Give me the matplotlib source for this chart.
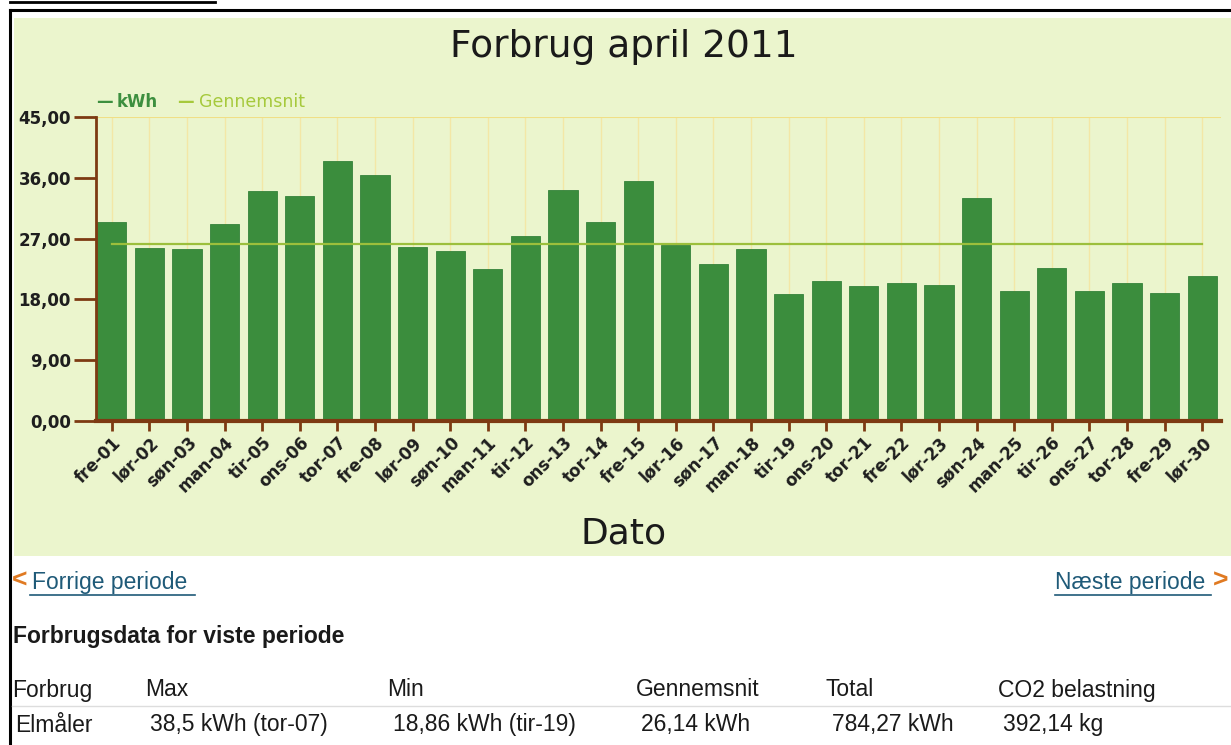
import numpy as np
import matplotlib
matplotlib.use('Agg')
import matplotlib.pyplot as plt
from matplotlib.patches import Rectangle
from matplotlib.lines import Line2D

# daily consumption, april 2011 (kWh)
days = ['fre-01', 'lør-02', 'søn-03', 'man-04', 'tir-05', 'ons-06', 'tor-07', 'fre-08',
        'lør-09', 'søn-10', 'man-11', 'tir-12', 'ons-13', 'tor-14', 'fre-15', 'lør-16',
        'søn-17', 'man-18', 'tir-19', 'ons-20', 'tor-21', 'fre-22', 'lør-23', 'søn-24',
        'man-25', 'tir-26', 'ons-27', 'tor-28', 'fre-29', 'lør-30']
kwh = [29.5, 25.6, 25.5, 29.1, 34.0, 33.3, 38.5, 36.4, 25.8, 25.2,
       22.5, 27.4, 34.2, 29.5, 35.6, 26.1, 23.2, 25.4, 18.86, 20.7,
       20.0, 20.4, 20.1, 33.0, 19.3, 22.7, 19.3, 20.5, 18.9, 21.5]
avg = 26.14
yticks = [0, 9, 18, 27, 36, 45]
ytick_labels = ['0,00', '9,00', '18,00', '27,00', '36,00', '45,00']

table_head = ['Forbrug', 'Max', 'Min', 'Gennemsnit', 'Total', 'CO2 belastning']
table_row = ['Elmåler', '38,5 kWh (tor-07)', '18,86 kWh (tir-19)', '26,14 kWh',
             '784,27 kWh', '392,14 kg']

W, H = 1231, 745
fig = plt.figure(figsize=(W / 100, H / 100), dpi=100)
fig.patch.set_facecolor('white')

def fx(px):
    return px / W

def fy(py):
    return 1 - py / H

# chart panel background
fig.patches.append(Rectangle((fx(14), fy(556)), fx(1231 - 14), fy(18) - fy(556),
                             transform=fig.transFigure, facecolor='#ebf5cd',
                             edgecolor='none', zorder=0))
# page border lines
fig.add_artist(Line2D([fx(10), fx(10)], [fy(10), 0], color='black', lw=2.2,
                      transform=fig.transFigure))
fig.add_artist(Line2D([fx(10), 1], [fy(10), fy(10)], color='black', lw=2.2,
                      transform=fig.transFigure))
fig.add_artist(Line2D([fx(10), fx(215)], [fy(2), fy(2)], color='black', lw=2,
                      transform=fig.transFigure))

ax = fig.add_axes([fx(96), fy(421), fx(1221 - 96), fy(117) - fy(421)])
ax.set_zorder(3)
ax.patch.set_alpha(0)

x = np.arange(len(days))
brown = '#7d3a12'
ax.vlines(x, 0, 45, color='#f3e7a6', lw=1, zorder=1)
ax.axhline(45, color='#f0df86', lw=1.5, zorder=1)
ax.bar(x, kwh, width=0.78, color='#3b8d3d', edgecolor='#34823a', lw=0.6, zorder=2)
ax.plot([x[0], x[-1]], [avg, avg], color='#9cbf3c', lw=1.6, zorder=3)

ax.set_xlim(-0.42, 29.5)
ax.set_ylim(0, 45)
ax.set_yticks(yticks)
ax.set_yticklabels(ytick_labels, fontsize=12, fontweight='bold', color='#1e1e1e')
ax.set_xticks(x)
ax.set_xticklabels(days, rotation=45, ha='right', rotation_mode='anchor',
                   fontsize=12, fontweight='bold', color='#1e1e1e')
for s in ['top', 'right']:
    ax.spines[s].set_visible(False)
ax.spines['left'].set_color(brown)
ax.spines['left'].set_linewidth(2)
ax.spines['bottom'].set_color(brown)
ax.spines['bottom'].set_linewidth(3)
ax.tick_params(axis='y', color=brown, width=2, length=16, pad=2)
ax.tick_params(axis='x', color=brown, width=2, length=7, pad=2)

# legend
fig.text(fx(96), fy(102), '—', color='#3d8f3f', fontsize=12, va='center', fontweight='bold')
fig.text(fx(117), fy(102), 'kWh', color='#3d8f3f', fontsize=12, va='center', fontweight='bold')
fig.text(fx(177), fy(102), '—', color='#a6c93c', fontsize=12, va='center', fontweight='bold')
fig.text(fx(199), fy(102), 'Gennemsnit', color='#a6c93c', fontsize=12.5, va='center')

fig.text(fx(624), fy(47), 'Forbrug april 2011', fontsize=27, ha='center', va='center',
         color='#1a1a1a')
fig.text(fx(624), fy(533), 'Dato', fontsize=26, ha='center', va='center', color='#1a1a1a')

# navigation links
link = '#1f5a78'
fig.text(fx(12), fy(581), '<', fontsize=19, fontweight='bold', color='#e07a22',
         va='center', family='Liberation Sans')
fig.text(fx(32), fy(583), 'Forrige periode', fontsize=16.5, color=link, va='center',
         family='Liberation Sans')
fig.add_artist(Line2D([fx(30), fx(195)], [fy(595), fy(595)], color=link, lw=1.2,
                      transform=fig.transFigure))
fig.text(fx(1055), fy(583), 'Næste periode', fontsize=16.5, color=link, va='center',
         family='Liberation Sans')
fig.add_artist(Line2D([fx(1055), fx(1211)], [fy(595), fy(595)], color=link, lw=1.2,
                      transform=fig.transFigure))
fig.text(fx(1213), fy(581), '>', fontsize=19, fontweight='bold', color='#e07a22',
         va='center', family='Liberation Sans')

fig.text(fx(13), fy(636), 'Forbrugsdata for viste periode', fontsize=16.5, fontweight='bold',
         color='#1a1a1a', va='center', family='Liberation Sans')

col_x = [12, 145, 387, 636, 826, 998]
row_x = [15, 150, 393, 641, 832, 1003]
for cx, t in zip(col_x, table_head):
    fig.text(fx(cx), fy(690), t, fontsize=16.5, color='#1a1a1a', va='center',
             family='Liberation Sans')
for cx, t in zip(row_x, table_row):
    fig.text(fx(cx), fy(725), t, fontsize=16.5, color='#1a1a1a', va='center',
             family='Liberation Sans')
fig.add_artist(Line2D([fx(12), fx(1231)], [fy(706), fy(706)], color='#dddddd', lw=1,
                      transform=fig.transFigure))

fig.savefig('out.png', dpi=100)
